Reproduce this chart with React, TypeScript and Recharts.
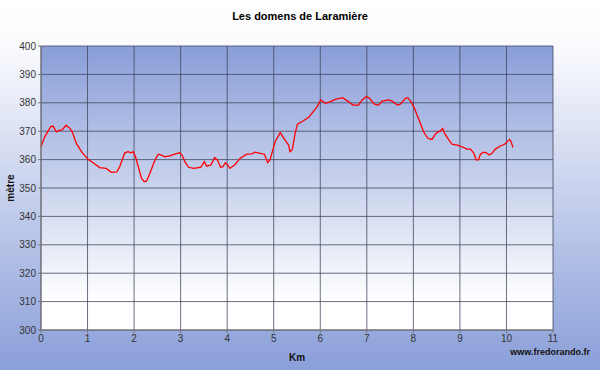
import React from "react"
import { LineChart, Line, XAxis, YAxis, CartesianGrid, Label } from "recharts"

// ── Data ──────────────────────────────────────────────────────────────────

const KM = [
  0, 0.08, 0.21, 0.26, 0.33, 0.4, 0.45, 0.54, 0.62, 0.67, 0.76, 0.87, 1.01, 1.12, 1.26, 1.4,
  1.51, 1.63, 1.69, 1.8, 1.87, 1.93, 1.98, 2.03, 2.09, 2.16, 2.22, 2.27, 2.34, 2.45, 2.52,
  2.59, 2.66, 2.77, 2.87, 2.98, 3.03, 3.09, 3.17, 3.28, 3.38, 3.43, 3.51, 3.56, 3.65, 3.73,
  3.79, 3.86, 3.91, 3.96, 4.01, 4.06, 4.17, 4.28, 4.42, 4.53, 4.6, 4.71, 4.8, 4.87, 4.92,
  5.03, 5.14, 5.25, 5.32, 5.35, 5.4, 5.46, 5.51, 5.64, 5.75, 5.82, 5.88, 5.93, 6.01, 6.11,
  6.22, 6.32, 6.48, 6.59, 6.7, 6.82, 6.9, 6.99, 7.06, 7.16, 7.25, 7.33, 7.47, 7.54, 7.66,
  7.72, 7.83, 7.88, 7.94, 8.01, 8.08, 8.15, 8.22, 8.31, 8.4, 8.47, 8.51, 8.58, 8.63, 8.67,
  8.74, 8.83, 8.94, 9.05, 9.15, 9.23, 9.3, 9.35, 9.4, 9.44, 9.51, 9.57, 9.63, 9.69, 9.76,
  9.87, 9.96, 10.03, 10.07, 10.1, 10.14,
]

const ALTITUDE = [
  364.5, 368, 371.6, 371.8, 369.8, 370.4, 370.4, 372.1, 371, 369.8, 365.7, 362.8, 360.1,
  358.9, 357.2, 356.9, 355.5, 355.7, 357.5, 362.4, 362.8, 362.4, 362.8, 361, 357.5, 353.4,
  352.2, 352.5, 355.2, 359.9, 361.9, 361.6, 361, 361.3, 361.9, 362.4, 361.6, 359.3, 357.3,
  356.9, 357.2, 357.3, 359.3, 357.7, 358.1, 360.7, 359.9, 357.3, 357.5, 358.9, 358.1, 356.9,
  358.3, 360.5, 361.9, 362, 362.6, 362.2, 361.9, 359, 359.9, 366.3, 369.5, 366.7, 365.1,
  362.8, 363.6, 369.3, 372.5, 373.7, 374.9, 376.3, 377.5, 378.6, 381, 379.8, 380.4, 381.2,
  381.8, 380.6, 379.2, 379.2, 381, 382.2, 381.6, 379.5, 379.2, 380.6, 381, 380.6, 379.2,
  379.5, 381.6, 381.8, 380.6, 378.6, 375.7, 372.8, 369.8, 367.5, 367.1, 368.9, 369.6, 370.1,
  371, 369.3, 367.5, 365.4, 365.1, 364.5, 363.7, 363.7, 362.2, 359.9, 359.9, 361.9, 362.6,
  362.4, 361.6, 362.2, 363.7, 364.8, 365.4, 366.5, 367.1, 366.3, 364.2,
]

const X_TICKS = [0, 1, 2, 3, 4, 5, 6, 7, 8, 9, 10, 11]
const Y_TICKS = [300, 310, 320, 330, 340, 350, 360, 370, 380, 390, 400]

const profile = KM.map((km, i) => ({ km, alt: ALTITUDE[i] }))

// ── Styles ────────────────────────────────────────────────────────────────

const FONT = "Arial, 'Liberation Sans', sans-serif"
const TICK_STYLE = { fontSize: 10, fill: "#333", fontFamily: FONT }

export default function App() {
  return (
    <div
      style={{
        position: "absolute",
        left: 0,
        top: 0,
        width: 600,
        height: 370,
        background: "linear-gradient(to bottom, #ffffff 0%, #fbfbfe 12%, #8a9fd9 100%)",
        fontFamily: FONT,
      }}
    >
      <div
        style={{
          position: "absolute",
          top: 10,
          width: 600,
          textAlign: "center",
          fontSize: 11,
          fontWeight: "bold",
          color: "#000",
        }}
      >
        Les domens de Laramière
      </div>
      <div
        style={{
          position: "absolute",
          right: 10,
          top: 347,
          fontSize: 9,
          fontWeight: "bold",
          color: "#111",
        }}
      >
        www.fredorando.fr
      </div>
      <LineChart
        width={600}
        height={370}
        data={profile}
        margin={{ top: 46, right: 47, bottom: 0, left: 0 }}
      >
        <defs>
          <linearGradient id="plotBg" x1="0" y1="0" x2="0" y2="1">
            <stop offset="0%" stopColor="#899ed8" />
            <stop offset="90%" stopColor="#ffffff" />
            <stop offset="100%" stopColor="#ffffff" />
          </linearGradient>
        </defs>
        <CartesianGrid
          fill="url(#plotBg)"
          stroke="#3c3f55"
          strokeOpacity={0.75}
          horizontalValues={Y_TICKS}
          verticalValues={X_TICKS}
        />
        <XAxis
          type="number"
          dataKey="km"
          domain={[0, 11]}
          ticks={X_TICKS}
          interval={0}
          height={40}
          tick={TICK_STYLE}
          tickSize={3}
          tickMargin={2}
          stroke="#777"
        >
          <Label
            value="Km"
            position="insideBottom"
            offset={9}
            style={{ fontSize: 10, fontWeight: "bold", fill: "#111", fontFamily: FONT }}
          />
        </XAxis>
        <YAxis
          type="number"
          domain={[300, 400]}
          ticks={Y_TICKS}
          interval={0}
          width={41}
          tick={TICK_STYLE}
          tickSize={3}
          tickMargin={2}
          stroke="#777"
        >
          <Label
            value="mètre"
            angle={-90}
            position="insideLeft"
            offset={10}
            style={{ fontSize: 10, fontWeight: "bold", fill: "#111", fontFamily: FONT, textAnchor: "middle" }}
          />
        </YAxis>
        <Line
          type="linear"
          dataKey="alt"
          stroke="#ff0000"
          strokeWidth={1.3}
          dot={false}
          isAnimationActive={false}
        />
      </LineChart>
    </div>
  )
}
